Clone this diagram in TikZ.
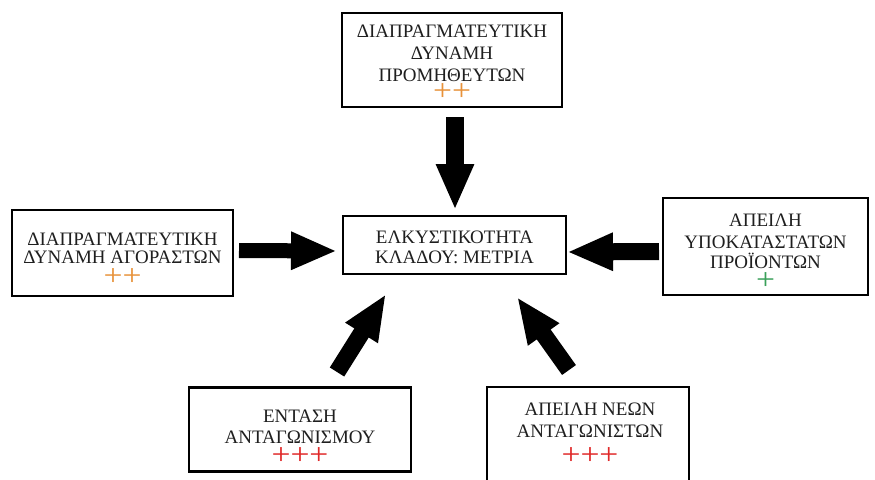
\documentclass[tikz,border=0pt]{standalone}
\usepackage{fontspec}
\setmainfont{Liberation Serif}
\usetikzlibrary{arrows.meta}
\definecolor{porange}{HTML}{E8923A}
\definecolor{pgreen}{HTML}{3AA05A}
\definecolor{pred}{HTML}{E02828}
\newcommand{\plusmk}[1]{\scalebox{1.12}[1]{#1}}
\tikzset{
  box/.style={draw=black, line width=2.6pt, fill=white, inner sep=0pt},
  txt/.style={font=\fontsize{19}{22}\selectfont, anchor=base, inner sep=0pt, text=black!88, text depth=0pt},
  plusm/.style={font=\fontsize{30}{30}\selectfont, anchor=base, inner sep=0pt, text height=13pt, text depth=0pt},
  fat/.style={line width=#1, black, -{Triangle[width=35pt,length=46pt]}},
}
\begin{document}
\begin{tikzpicture}[x=1pt,y=-1pt]
\useasboundingbox (0,0) rectangle (875,479);
\clip (0,0) rectangle (875,479);
\fill[white] (0,0) rectangle (875,479);

% boxes
\node[box, minimum width=220pt, minimum height=94pt] (sup) at (452,60) {};
\node[box, minimum width=221pt, minimum height=86pt] (buy) at (122.5,253) {};
\node[box, minimum width=223pt, minimum height=58pt] (mid) at (454.5,245) {};
\node[box, minimum width=205pt, minimum height=97pt] (sub) at (765.5,246.5) {};
\node[box, minimum width=222pt, minimum height=84pt] (riv) at (300,429.5) {};
\node[box, minimum width=202pt, minimum height=108pt] (new) at (588,441) {};

% texts
\node[txt] (sup1) at (452,37) {ΔΙΑΠΡΑΓΜΑΤΕΥΤΙΚΗ};
\node[txt] (sup2) at (452,59) {ΔΥΝΑΜΗ};
\node[txt] (sup3) at (452,81) {ΠΡΟΜΗΘΕΥΤΩΝ};
\node[plusm, text=porange] (supp) at (452,100) {\plusmk{++}};

\node[txt] (buy1) at (122.5,245) {ΔΙΑΠΡΑΓΜΑΤΕΥΤΙΚΗ};
\node[txt] (buy2) at (122.5,263) {ΔΥΝΑΜΗ ΑΓΟΡΑΣΤΩΝ};
\node[plusm, text=porange] (buyp) at (122.5,285) {\plusmk{++}};

\node[txt] (mid1) at (454.5,243) {ΕΛΚΥΣΤΙΚΟΤΗΤΑ};
\node[txt] (mid2) at (454.5,263) {ΚΛΑΔΟΥ: ΜΕΤΡΙΑ};

\node[txt] (sub1) at (765.5,226) {ΑΠΕΙΛΗ};
\node[txt] (sub2) at (765.5,248) {ΥΠΟΚΑΤΑΣΤΑΤΩΝ};
\node[txt] (sub3) at (765.5,268) {ΠΡΟΪΟΝΤΩΝ};
\node[plusm, text=pgreen] (subp) at (765.5,289.5) {\plusmk{+}};

\node[txt] (riv1) at (300,422) {ΕΝΤΑΣΗ};
\node[txt] (riv2) at (300,443) {ΑΝΤΑΓΩΝΙΣΜΟΥ};
\node[plusm, text=pred] (rivp) at (300,464.5) {\plusmk{+++}};

\node[txt] (new1) at (590,415) {ΑΠΕΙΛΗ ΝΕΩΝ};
\node[txt] (new2) at (590,437) {ΑΝΤΑΓΩΝΙΣΤΩΝ};
\node[plusm, text=pred] (newp) at (590,464.5) {\plusmk{+++}};

% arrows
\coordinate (a1s) at (455,117);   \coordinate (a1e) at (455,210);
\coordinate (a2s) at (239,250.5); \coordinate (a2e) at (337,251);
\coordinate (a3s) at (659,251.5); \coordinate (a3e) at (567,252);
\coordinate (a4s) at (337,372);   \coordinate (a4e) at (386,294);
\coordinate (a5s) at (569,370);   \coordinate (a5e) at (517,297);
\draw[fat=18pt] (a1s) -- (a1e);
\draw[fat=15pt] (a2s) -- (a2e);
\draw[fat=17pt] (a3s) -- (a3e);
\draw[fat=17pt] (a4s) -- (a4e);
\draw[fat=17pt] (a5s) -- (a5e);
\end{tikzpicture}
\end{document}
